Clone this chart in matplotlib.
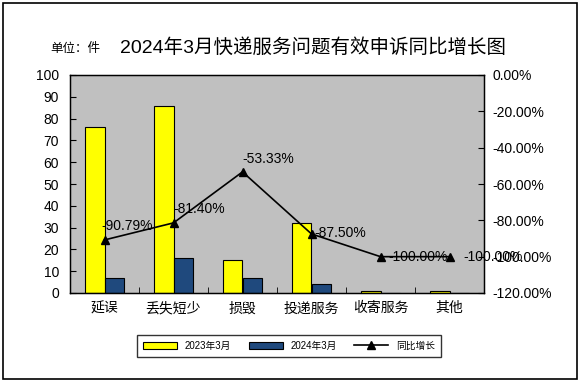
import matplotlib
matplotlib.use("Agg")
import matplotlib.pyplot as plt
import numpy as np
from matplotlib.patches import Rectangle

plt.rcParams["font.family"] = ["Liberation Sans", "Noto Sans CJK SC", "DejaVu Sans"]

categories = ["延误", "丢失短少", "损毁", "投递服务", "收寄服务", "其他"]
counts_2023 = [76, 86, 15, 32, 1, 1]
counts_2024 = [7, 16, 7, 4, 0, 0]
growth = [-90.79, -81.40, -53.33, -87.50, -100.00, -100.00]
growth_labels = ["-90.79%", "-81.40%", "-53.33%", "-87.50%", "-100.00%", "-100.00%"]
# label offsets in points (dx, dy) relative to each marker
label_offsets = [(-2, 10), (0, 10), (0, 9), (2, 1), (6, 0), (10, 0)]

YELLOW = "#FFFF00"
NAVY = "#1F497D"
GRAY = "#C0C0C0"

fig = plt.figure(figsize=(5.81, 3.82), dpi=100)
fig.patch.set_facecolor("white")
ax = fig.add_axes([70 / 581, 1 - 293 / 382, 414 / 581, 218 / 382])
ax.set_facecolor(GRAY)

x = np.arange(len(categories))
w = 0.28
ax.bar(x - w / 2, counts_2023, w, color=YELLOW, edgecolor="black", linewidth=0.8,
       label="2023年3月", zorder=2)
ax.bar(x + w / 2, counts_2024, w, color=NAVY, edgecolor="black", linewidth=0.8,
       label="2024年3月", zorder=2)
ax.set_xlim(-0.5, len(categories) - 0.5)
ax.set_ylim(0, 100)
ax.set_yticks(range(0, 101, 10))
ax.set_xticks(x)
ax.set_xticklabels(categories, fontsize=10)
ax.set_xticks(np.arange(0.5, len(categories) - 0.5, 1), minor=True)
ax.tick_params(axis="x", which="major", length=0, pad=6)
ax.tick_params(axis="x", which="minor", direction="in", length=4)
ax.tick_params(axis="y", direction="in", length=4, labelsize=10, pad=8)
for s in ax.spines.values():
    s.set_color("black")
    s.set_linewidth(1)

ax2 = ax.twinx()
ax2.set_ylim(-120, 0)
ax2.set_yticks(range(-120, 1, 20))
ax2.set_yticklabels([f"{v:.2f}%" for v in range(-120, 1, 20)])
ax2.tick_params(axis="y", direction="in", length=4, labelsize=10, pad=6)
line, = ax2.plot(x, growth, color="black", linewidth=1.2, marker="^", markersize=6,
                 label="同比增长", zorder=3)
for xi, yi, lab, (dx, dy) in zip(x, growth, growth_labels, label_offsets):
    ax2.annotate(lab, (xi, yi), xytext=(dx, dy), textcoords="offset points",
                 ha="left", va="center", fontsize=10, color="black")

h1, l1 = ax.get_legend_handles_labels()
h2, l2 = ax2.get_legend_handles_labels()
leg = fig.legend(h1 + h2, l1 + l2, loc="center", bbox_to_anchor=(289 / 581, 1 - 346 / 382),
                 ncol=3, fontsize=7, frameon=True, fancybox=False, edgecolor="black",
                 handlelength=3.5, handleheight=0.8, columnspacing=1.8, borderpad=0.6)
leg.get_frame().set_linewidth(1)

fig.text(50 / 581, 1 - 49 / 382, "单位：件", fontsize=9, ha="left", va="center")
fig.text(120 / 581, 1 - 48 / 382, "2024年3月快递服务问题有效申诉同比增长图", fontsize=14,
         ha="left", va="center")

fig.add_artist(Rectangle((3 / 581, 3 / 382), 574 / 581, 376 / 382, transform=fig.transFigure,
                         fill=False, edgecolor="black", linewidth=1.2))

fig.savefig("out.png", dpi=100)
